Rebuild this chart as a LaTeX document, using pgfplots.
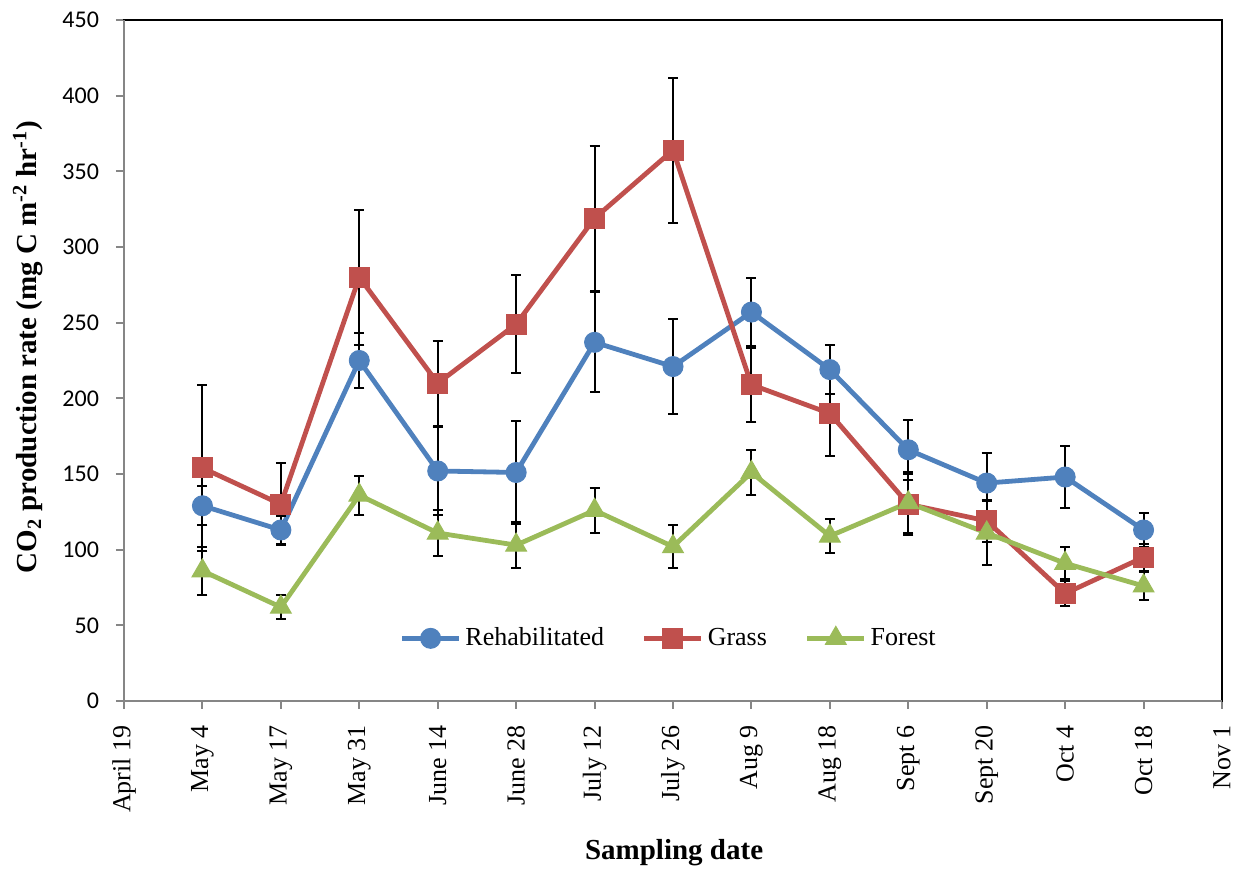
\documentclass[border=0pt]{standalone}
\usepackage{fontspec}
\setmainfont{Liberation Serif}
\newfontfamily\carlito{Carlito}
\usepackage{pgfplots}
\pgfplotsset{compat=1.18}
\usepackage{pgfplotstable}
\definecolor{rehab}{HTML}{4F81BD}
\definecolor{grass}{HTML}{C0504D}
\definecolor{forest}{HTML}{9BBB59}
\definecolor{axgray}{HTML}{868686}

\pgfplotstableread{
x y e
1 129 13
2 113 9
3 225 18
4 152 29
5 151 34
6 237 33
7 221 31.5
8 257 22.5
9 219 16
10 166 20
11 144 20
12 148 20.5
13 113 11
}\rehab
\pgfplotstableread{
x y e
1 154 55
2 130 27
3 280 44.5
4 210 28
5 249 32.5
6 319 48
7 364 48
8 209 24.5
9 190 28
10 130 20
11 119 14
12 71 8
13 95 9
}\grass
\pgfplotstableread{
x y e
1 86 16
2 62 8
3 136 13
4 111 15
5 103 15
6 126 15
7 102 14
8 151 15
9 109 11
10 131 20
11 111 21
12 91 10.5
13 76 9
}\forest

\begin{document}
\begin{tikzpicture}
\begin{axis}[
  scale only axis, width=549pt, height=340.5pt,
  xmin=0, xmax=14, ymin=0, ymax=450,
  xtick={0,...,14},
  xticklabels={April 19, May 4, May 17, May 31, June 14, June 28, July 12, July 26, Aug 9, Aug 18, Sept 6, Sept 20, Oct 4, Oct 18, Nov 1},
  ytick={0,50,...,450},
  xtick pos=left, ytick pos=left, tick align=outside,
  major tick length=4pt,
  tick style={axgray, line width=1pt},
  axis line style={black, line width=1pt},
  xticklabel style={yshift=-4.7pt, rotate=90, anchor=east, font=\fontsize{13}{15}\selectfont},
  yticklabel style={xshift=-5pt, font=\carlito\fontsize{12}{14}\selectfont},
  /pgf/number format/assume math mode=true,
  xlabel={\textbf{Sampling date}},
  xlabel style={at={(axis description cs:0.501,-0.222)}, anchor=center, font=\fontsize{14.5}{17}\selectfont},
  ylabel={\textbf{CO\textsubscript{2} production rate (mg C m\textsuperscript{-2} hr\textsuperscript{-1})}},
  ylabel style={at={(axis description cs:-0.0874,0.52)}, anchor=center, font=\fontsize{14.5}{17}\selectfont},
  legend style={at={(rel axis cs:0.497,0.092)}, anchor=center, draw=none, fill=none,
    font=\fontsize{13}{15}\selectfont,
    /tikz/every even column/.append style={column sep=17pt}},
  legend columns=3,
  legend image code/.code={\draw[mark repeat=2,mark phase=2,#1] plot coordinates {(0cm,0cm) (0.5cm,0cm) (1cm,0cm)};},
  clip=false,
  every axis plot/.append style={line width=2.4pt},
  error bars/y dir=both, error bars/y explicit,
  error bars/error bar style={black, line width=1pt},
  error bars/error mark options={rotate=90, black, mark size=2.5pt, line width=1pt},
]
\draw[axgray, line width=1.2pt] (rel axis cs:0,1) -- (rel axis cs:0,0) -- (rel axis cs:1,0);
\addplot[color=rehab, mark=*, mark size=5pt, mark options={solid, fill=rehab, draw=rehab, line width=0.5pt}] table[x=x, y=y, y error=e] {\rehab};
\addlegendentry{Rehabilitated}
\addplot[color=grass, mark=square*, mark size=5pt, mark options={solid, fill=grass, draw=grass, line width=0.5pt}] table[x=x, y=y, y error=e] {\grass};
\addlegendentry{Grass}
\addplot[color=forest, mark=triangle*, mark size=6pt, mark options={solid, fill=forest, draw=forest, line width=0.5pt}] table[x=x, y=y, y error=e] {\forest};
\addlegendentry{Forest}
\coordinate (SW) at (rel axis cs:0,0);
\coordinate (NE) at (rel axis cs:1,1);
\end{axis}
\pgfresetboundingbox
\path ([xshift=-62pt,yshift=-84pt]SW) rectangle ([xshift=11.5pt,yshift=10pt]NE);
\end{tikzpicture}
\end{document}
